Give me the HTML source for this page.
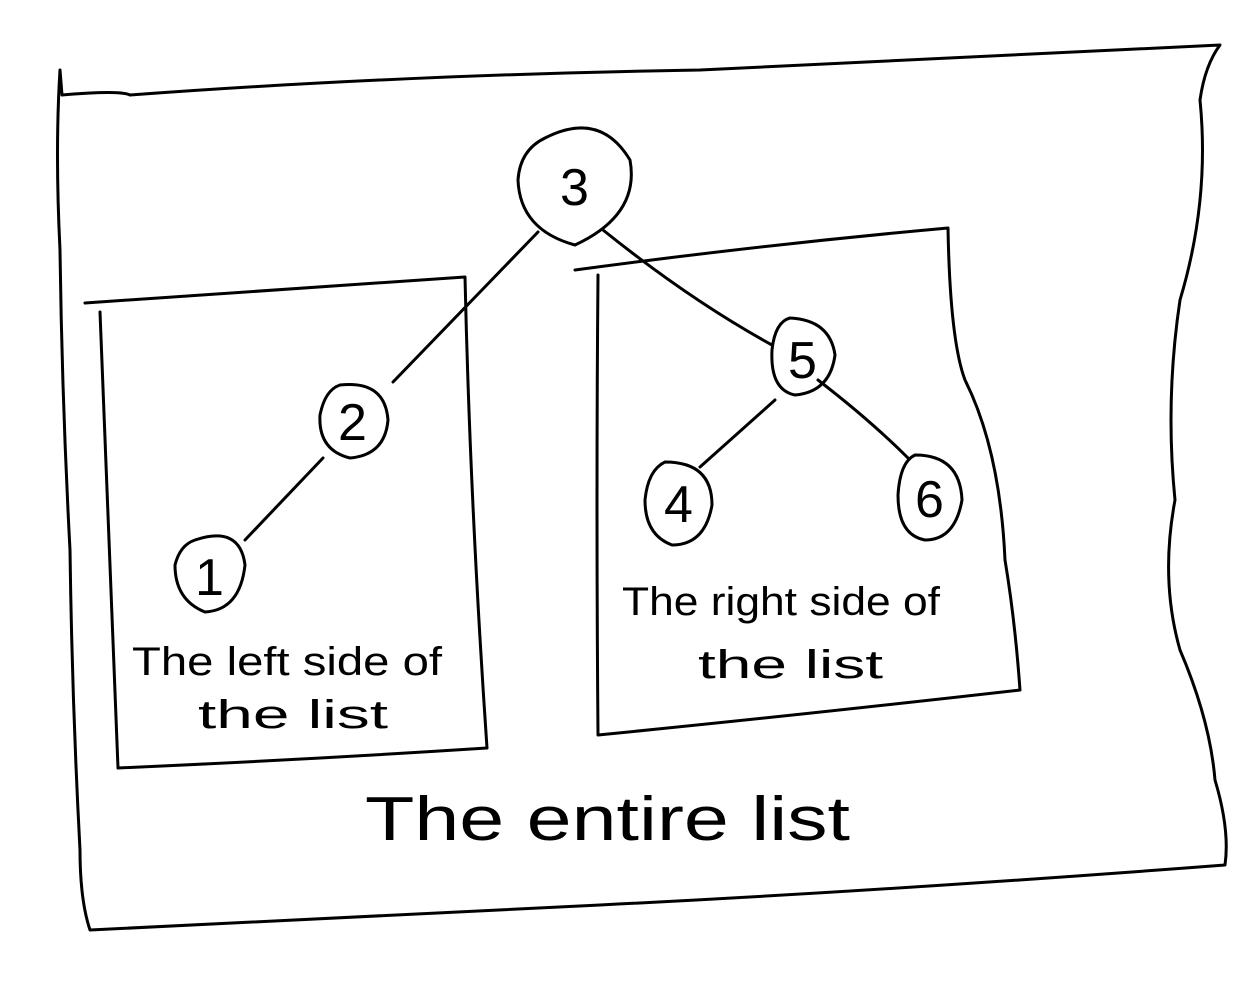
<!DOCTYPE html>
<html><head><meta charset="utf-8"><style>
html,body{margin:0;padding:0;background:#fff;}
svg{display:block;}
text{font-family:"Liberation Sans",sans-serif;fill:#000;}
</style></head><body>
<svg width="1259" height="984" viewBox="0 0 1259 984">
<g fill="none" stroke="#000" stroke-width="3" stroke-linecap="round" stroke-linejoin="round">
  <path d="M60,70 L62,95 Q120,90 130,95 Q400,75 700,70 Q1000,55 1220,45 Q1205,65 1200,100 Q1210,200 1180,300 Q1165,400 1175,500 Q1160,580 1180,650 Q1210,720 1215,780 Q1230,830 1225,865 Q900,890 600,905 Q300,920 90,930 Q80,900 80,850 Q72,700 70,550 Q62,400 60,250 Q55,150 60,70"/>
  <path d="M85,303 Q270,290 465,277 Q470,500 487,748 Q300,760 118,768 Q110,550 100,312"/>
  <path d="M575,270 Q760,245 948,228 Q950,340 965,380 Q1000,450 1005,560 Q1015,620 1020,690 Q800,715 598,735 Q596,500 598,275"/>
  <path d="M545,138 Q600,110 630,160 Q640,215 575,245 Q520,230 518,180 Q520,150 545,138"/>
  <path d="M340,385 Q385,380 388,420 Q385,455 350,458 Q318,450 320,415 Q325,390 340,385"/>
  <path d="M195,540 Q240,525 245,565 Q240,610 205,612 Q175,600 175,565 Q180,545 195,540"/>
  <path d="M790,318 Q830,320 835,355 Q830,392 795,395 Q770,390 772,350 Q775,322 790,318"/>
  <path d="M665,462 Q712,462 712,505 Q705,545 672,545 Q645,535 645,500 Q648,470 665,462"/>
  <path d="M915,455 Q960,455 962,500 Q955,540 925,540 Q898,535 898,495 Q900,462 915,455"/>
  <path d="M538,232 L393,382"/>
  <path d="M603,230 Q690,300 772,345"/>
  <path d="M323,458 L245,540"/>
  <path d="M775,400 L700,467"/>
  <path d="M818,380 Q870,420 908,458"/>
</g>
<g font-size="52">
  <text x="560" y="205">3</text>
  <text x="338" y="440">2</text>
  <text x="195" y="595">1</text>
  <text x="788" y="378">5</text>
  <text x="664" y="522">4</text>
  <text x="915" y="517">6</text>
</g>
<g font-size="40">
  <text x="132" y="675" textLength="310" lengthAdjust="spacingAndGlyphs">The left side of</text>
  <text x="198" y="728" textLength="190" lengthAdjust="spacingAndGlyphs">the list</text>
  <text x="622" y="615" textLength="318" lengthAdjust="spacingAndGlyphs">The right side of</text>
  <text x="698" y="678" textLength="185" lengthAdjust="spacingAndGlyphs">the list</text>
</g>
<text x="365" y="840" font-size="62" textLength="485" lengthAdjust="spacingAndGlyphs">The entire list</text>
</svg>
</body></html>
